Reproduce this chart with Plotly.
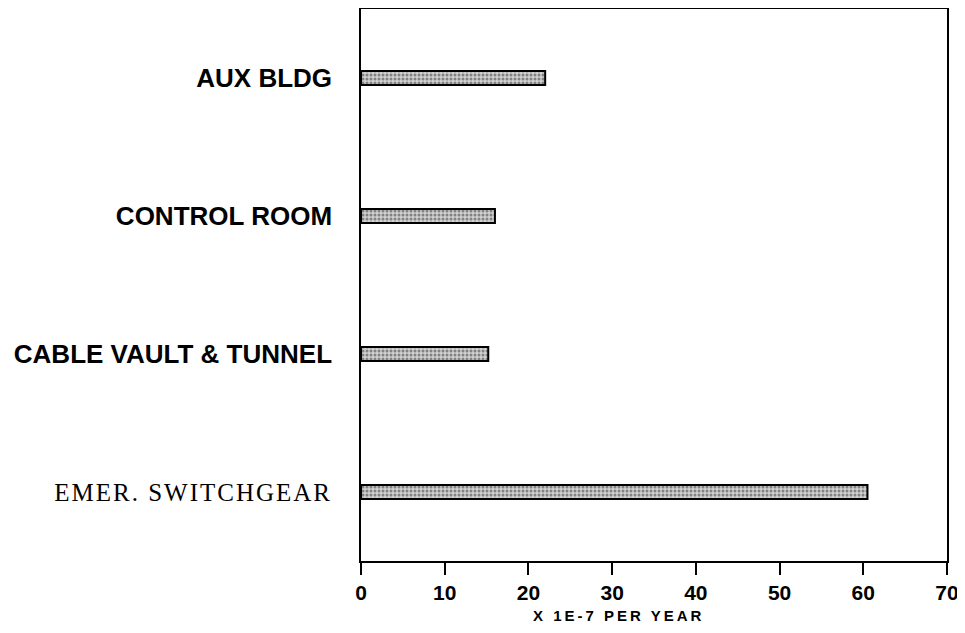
import plotly.graph_objects as go

# data
categories = ["EMER. SWITCHGEAR", "CABLE VAULT & TUNNEL", "CONTROL ROOM", "AUX BLDG"]
values = [60.5, 15.2, 16.0, 22.0]
x_ticks = [0, 10, 20, 30, 40, 50, 60, 70]

sans = "Liberation Sans, Arial, sans-serif"
serif = "Liberation Serif, Times New Roman, serif"

tick_text = []
for c in categories:
    if c.startswith("EMER"):
        tick_text.append(f'<span style="font-family:{serif};font-size:25px;font-weight:normal;letter-spacing:2px">{c}</span>')
    else:
        tick_text.append(f"<b>{c}</b>")

fig = go.Figure()

fig.add_trace(go.Bar(
    x=values,
    y=categories,
    orientation="h",
    width=0.1,
    marker=dict(
        color="#c8c8c8",
        line=dict(color="black", width=2),
        pattern=dict(shape=".", fgcolor="#333333", bgcolor="#d0d0d0", size=4, solidity=0.45),
    ),
    showlegend=False,
))

fig.update_layout(
    width=957,
    height=617,
    margin=dict(l=353, r=18, t=1, b=64),
    plot_bgcolor="white",
    paper_bgcolor="white",
    font=dict(family=sans, color="black"),
    xaxis=dict(
        range=[0, 70],
        tickvals=x_ticks,
        ticktext=[f"<b>{v}</b>" for v in x_ticks],
        tickfont=dict(size=21, family=sans),
        ticks="outside",
        ticklen=12,
        tickwidth=1.5,
        tickcolor="black",
        showline=True,
        linecolor="black",
        linewidth=1.5,
        mirror=True,
        showgrid=False,
        zeroline=False,
        automargin=False,
    ),
    yaxis=dict(
        categoryorder="array",
        categoryarray=categories,
        tickvals=categories,
        ticktext=tick_text,
        tickfont=dict(size=26, family=sans),
        range=[-0.5, 3.5],
        ticks="",
        ticklabelstandoff=22,
        showline=True,
        linecolor="black",
        linewidth=1.5,
        mirror=True,
        showgrid=False,
        automargin=False,
    ),
    annotations=[dict(
        text='<b><span style="letter-spacing:3px">X 1E-7 PER YEAR</span></b>',
        xref="paper", yref="paper",
        x=0.439, y=0, yshift=-54,
        xanchor="center", yanchor="middle",
        showarrow=False,
        font=dict(size=15, family=sans),
    )],
)

fig.write_html("out.html")
